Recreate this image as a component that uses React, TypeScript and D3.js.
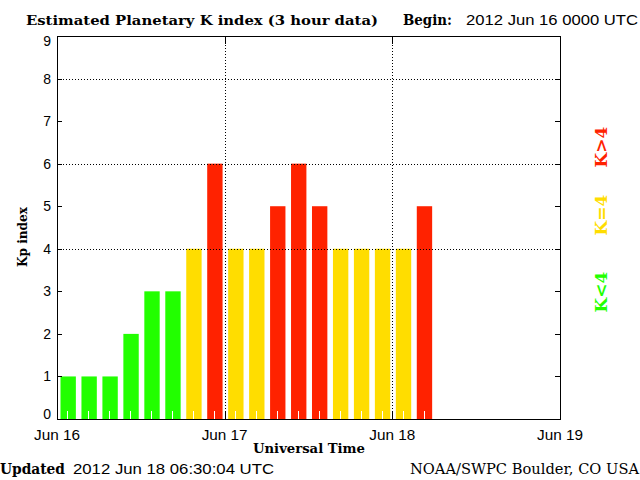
import React from "react";
import * as d3 from "d3";

const startIso = "2012-06-16T00:00:00Z";
const endIso = "2012-06-19T00:00:00Z";
const kpValues = [1, 1, 1, 2, 3, 3, 4, 6, 4, 4, 5, 6, 5, 4, 4, 4, 4, 5];
const yTicks = [0, 1, 2, 3, 4, 5, 6, 7, 8, 9];
const yGrid = [4, 6, 8];
const dayLabels = ["Jun 16", "Jun 17", "Jun 18", "Jun 19"];
const legendItems = [
  { label: "K>4", color: "#ff2200", cy: 147 },
  { label: "K=4", color: "#ffdd00", cy: 215 },
  { label: "K<4", color: "#22ff00", cy: 292 },
];

const W = 640;
const H = 480;
const left = 57;
const right = 560;
const top = 36;
const bottom = 419;

const serif = "'DejaVu Serif', 'Liberation Serif', serif";
const sans = "'Liberation Sans', Arial, sans-serif";

function colorFor(v: number) {
  if (v < 4) return "#22ff00";
  if (v === 4) return "#ffdd00";
  return "#ff2200";
}

export default function App() {
  const t0 = new Date(startIso);
  const t1 = new Date(endIso);
  const x = d3.scaleUtc().domain([t0, t1]).range([left, right]);
  const y = d3.scaleLinear().domain([0, 9]).range([bottom, top]);

  const days = d3.utcDay.range(t0, d3.utcDay.offset(t1, 1));
  const innerDays = days.slice(1, days.length - 1);
  const slots = d3.utcHour.every(3)!.range(t0, t1);

  const bars = kpValues.map((v, i) => {
    const t = d3.utcHour.offset(t0, i * 3);
    const xa = x(d3.utcMinute.offset(t, 30));
    const xb = x(d3.utcMinute.offset(t, 162));
    return { v, xa, xb };
  });

  const labelY = (t: number) => {
    if (t === 0) return y(t) - 5;
    if (t === 9) return y(t) + 5;
    return y(t);
  };

  return (
    <svg
      width={W}
      height={H}
      style={{ position: "absolute", left: 0, top: 0, background: "#fff" }}
    >
      <rect x={0} y={0} width={W} height={H} fill="#fff" />
      {/* title */}
      <text x={26} y={25} fontFamily={serif} fontWeight="bold" fontSize={13} textLength={352} lengthAdjust="spacingAndGlyphs">
        Estimated Planetary K index (3 hour data)
      </text>
      <text x={403} y={25} fontFamily={serif} fontWeight="bold" fontSize={14} textLength={49} lengthAdjust="spacingAndGlyphs">
        Begin:
      </text>
      <text x={466} y={25} fontFamily={sans} fontSize={14} textLength={172} lengthAdjust="spacingAndGlyphs">
        2012 Jun 16 0000 UTC
      </text>

      {/* bars */}
      {bars.map((b, i) => (
        <rect key={i} x={b.xa} y={y(b.v)} width={b.xb - b.xa} height={y(0) - y(b.v)} fill={colorFor(b.v)} />
      ))}

      {/* minor ticks (white) */}
      {slots.map((s, i) => {
        const xx = Math.round(x(d3.utcMinute.offset(s, 90))) + 0.5;
        return <line key={i} x1={xx} x2={xx} y1={bottom} y2={bottom - 8} stroke="#fff" strokeWidth={1} />;
      })}

      {/* horizontal grid */}
      {yGrid.map((g) => {
        const yy = Math.round(y(g)) + 0.5;
        return <line key={g} x1={left} x2={right} y1={yy} y2={yy} stroke="#000" strokeWidth={1} strokeDasharray="1,2" />;
      })}
      {/* vertical grid + major ticks */}
      {innerDays.map((d, i) => {
        const xx = Math.round(x(d)) + 0.5;
        return (
          <g key={i}>
            <line x1={xx} x2={xx} y1={top} y2={bottom} stroke="#000" strokeWidth={1} strokeDasharray="1,2" />
            <line x1={xx} x2={xx} y1={bottom} y2={bottom - 8} stroke="#000" strokeWidth={1} />
            <line x1={xx} x2={xx} y1={top} y2={top + 8} stroke="#000" strokeWidth={1} />
          </g>
        );
      })}

      {/* y ticks */}
      {yTicks.slice(1, -1).map((t) => {
        const yy = Math.round(y(t)) + 0.5;
        return (
          <g key={t}>
            <line x1={left} x2={left + 5} y1={yy} y2={yy} stroke="#000" />
            <line x1={right - 5} x2={right} y1={yy} y2={yy} stroke="#000" />
          </g>
        );
      })}

      {/* frame */}
      <rect x={left + 0.5} y={top + 0.5} width={right - left} height={bottom - top} fill="none" stroke="#000" strokeWidth={1} />

      {/* y labels */}
      {yTicks.map((t) => (
        <text key={t} x={51} y={labelY(t)} dy="0.36em" textAnchor="end" fontFamily={sans} fontSize={14}>
          {t}
        </text>
      ))}
      {/* x labels */}
      {days.map((d, i) => (
        <text key={i} x={x(d)} y={440} textAnchor="middle" fontFamily={sans} fontSize={14} textLength={46} lengthAdjust="spacingAndGlyphs">
          {dayLabels[i]}
        </text>
      ))}
      <text x={309} y={453} textAnchor="middle" fontFamily={serif} fontWeight="bold" fontSize={13} textLength={112} lengthAdjust="spacingAndGlyphs">
        Universal Time
      </text>
      <text transform="translate(22,237) rotate(-90)" textAnchor="middle" dy="0.35em" fontFamily={serif} fontWeight="bold" fontSize={13} textLength={60} lengthAdjust="spacingAndGlyphs">
        Kp index
      </text>

      {/* legend */}
      {legendItems.map((l) => (
        <text
          key={l.label}
          transform={`translate(601,${l.cy}) rotate(-90)`}
          textAnchor="middle"
          dy="0.35em"
          fontFamily={serif}
          fontWeight="bold"
          fontSize={17}
          fill={l.color}
        >
          {l.label}
        </text>
      ))}

      {/* footer */}
      <text x={0} y={474} fontFamily={serif} fontWeight="bold" fontSize={14} textLength={65} lengthAdjust="spacingAndGlyphs">
        Updated
      </text>
      <text x={73} y={474} fontFamily={sans} fontSize={15} textLength={201} lengthAdjust="spacingAndGlyphs">
        2012 Jun 18 06:30:04 UTC
      </text>
      <text x={410} y={474} fontFamily={serif} fontSize={14} textLength={229} lengthAdjust="spacingAndGlyphs">
        NOAA/SWPC Boulder, CO USA
      </text>
    </svg>
  );
}
